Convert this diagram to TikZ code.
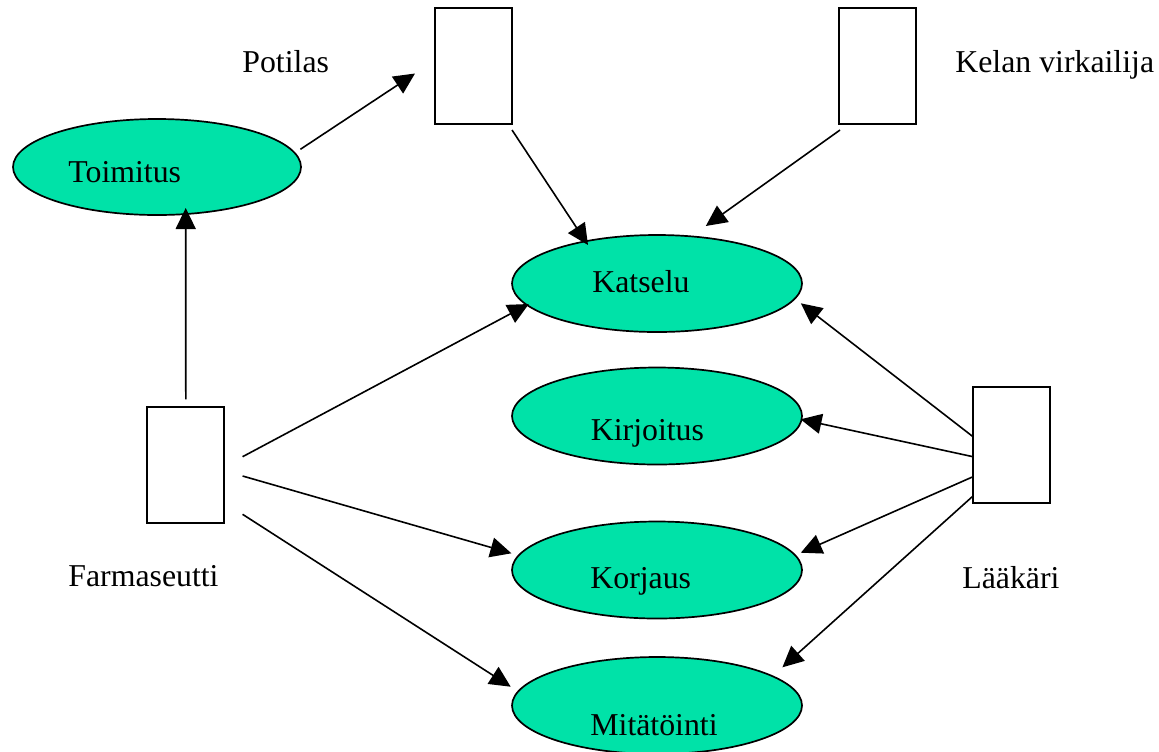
\documentclass[tikz,border=0pt]{standalone}
\usepackage{fontspec}
\setmainfont{Liberation Serif}
\usetikzlibrary{shapes.geometric,arrows.meta,calc}
\definecolor{usecase}{RGB}{0,226,168}
\begin{document}
\begin{tikzpicture}[x=0.5pt,y=-0.5pt,
  font=\fontsize{15.9pt}{18pt}\selectfont,
  actor/.style={draw=black,line width=1pt,fill=white,rectangle,minimum width=38.5pt,minimum height=58pt,inner sep=0pt},
  usecasebox/.style={draw=black,line width=0.85pt,fill=usecase,ellipse,minimum width=145pt,minimum height=48.5pt,inner sep=0pt},
  txt/.style={anchor=base west,inner sep=0pt,text=black},
  arr/.style={line width=0.8pt,-{Triangle[length=10.5pt,width=10pt]}}]
\useasboundingbox (0,0) rectangle (1159,751);
% actors
\node[actor] (pot) at (473.8,66.2) {};
\node[actor] (kel) at (877.9,66.2) {};
\node[actor] (far) at (185.8,464.7) {};
\node[actor] (laa) at (1011.7,445.3) {};
\node[txt] (potT) at (242,72) {Potilas};
\node[txt] (kelT) at (955,72) {Kelan virkailija};
\node[txt] (farT) at (68,586) {Farmaseutti};
\node[txt] (laaT) at (962,588) {Lääkäri};
% use cases
\node[usecasebox,minimum width=144pt,minimum height=48pt] (toi) at (157,167) {};
\node[usecasebox] (kat) at (657,283.5) {};
\node[usecasebox] (kir) at (657,416) {};
\node[usecasebox] (kor) at (657,570) {};
\node[usecasebox] (mit) at (657,705.5) {};
\node[txt] (toiT) at (68,182) {Toimitus};
\node[txt] (katT) at (592,292) {Katselu};
\node[txt] (kirT) at (590.5,440) {Kirjoitus};
\node[txt] (korT) at (590,588) {Korjaus};
\node[txt] (mitT) at (590,735) {Mitätöinti};
% connectors
\draw[arr] ($(toi)+(143.4,-17.7)$) -- ($(pot)+(-58.8,7.3)$);
\draw[arr] ($(far)+(0,-65.4)$) -- ($(toi)+(28.7,41)$);
\draw[arr] ($(pot)+(38.2,63.8)$) -- ($(kat)+(-69,-38.5)$);
\draw[arr] ($(kel)+(-37.9,63.8)$) -- ($(kat)+(48.8,-57.5)$);
\draw[arr] ($(far)+(56.8,-8)$) -- ($(kat)+(-128.2,20.5)$);
\draw[arr] ($(far)+(56.8,11.3)$) -- ($(kor)+(-145.6,-16.7)$);
\draw[arr] ($(far)+(56.8,49.6)$) -- ($(mit)+(-146.3,-18.8)$);
\draw[arr] ($(laa)+(-38.7,-8.6)$) -- ($(kat)+(143.8,19.8)$);
\draw[arr] ($(laa)+(-38.7,11.4)$) -- ($(kir)+(143.5,3.3)$);
\draw[arr] ($(laa)+(-38.7,31.4)$) -- ($(kor)+(143.8,-17.3)$);
\draw[arr] ($(laa)+(-38.7,50.7)$) -- ($(mit)+(125.4,-38.2)$);
\end{tikzpicture}
\end{document}
